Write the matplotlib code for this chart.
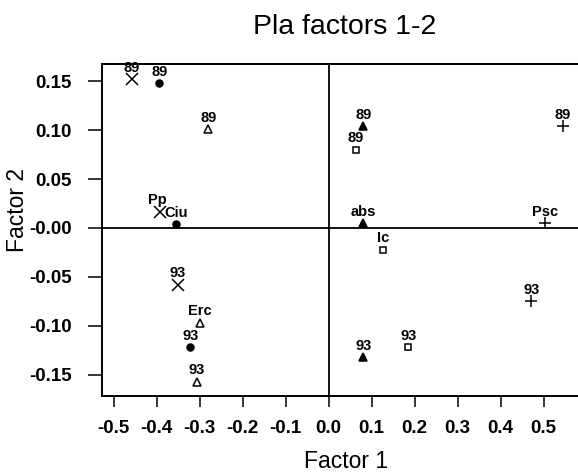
import matplotlib
matplotlib.use("Agg")
import matplotlib.pyplot as plt

plt.rcParams['font.family'] = ['Liberation Sans', 'DejaVu Sans']

# Data: each group has (89, centroid, 93) points
groups = ['Pp', 'Ciu', 'Erc', 'abs', 'Ic', 'Psc']
markers = ['x', 'o', '^', '^', 's', '+']
filled = [True, True, False, True, False, True]
x89 = [-0.457, -0.394, -0.280, 0.081, 0.064, 0.545]
y89 = [0.152, 0.148, 0.101, 0.104, 0.080, 0.104]
xc = [-0.391, -0.354, -0.300, 0.081, 0.126, 0.504]
yc = [0.0167, 0.004, -0.097, 0.005, -0.022, 0.005]
x93 = [-0.351, -0.322, -0.306, 0.081, 0.185, 0.471]
y93 = [-0.058, -0.122, -0.157, -0.132, -0.122, -0.075]
label_offsets = {'Pp': (-2, 5.3)}

xticks = [-0.5, -0.4, -0.3, -0.2, -0.1, 0.0, 0.1, 0.2, 0.3, 0.4, 0.5]
yticks = [0.15, 0.10, 0.05, 0.00, -0.05, -0.10, -0.15]
ytick_labels = ['0.15', '0.10', '0.05', '-0.00', '-0.05', '-0.10', '-0.15']

fig = plt.figure(figsize=(5.78, 4.72), dpi=100)
ax = fig.add_axes([102/578, 1 - 396/472, 1 - 102/578, (396 - 64)/472])
ax.set_xlim(-0.527, 0.58)
ax.set_ylim(-0.1718, 0.1677)

ax.axhline(0, color='black', lw=1.3, zorder=1)
ax.axvline(0, color='black', lw=1.3, zorder=1)

msize = {'x': 8, 'o': 5, '^': 6, 's': 5, '+': 8}
for g, m, f, a, b, c, d, e, h in zip(groups, markers, filled, x89, y89, xc, yc, x93, y93):
    xs = [a, c, e]
    ys = [b, d, h]
    labs = ['89', g, '93']
    for xx, yy, lab in zip(xs, ys, labs):
        if m in ('x', '+'):
            ax.plot(xx, yy, marker=m, color='black', ms=msize[m], mew=1.1, ls='none', zorder=3)
        else:
            ax.plot(xx, yy, marker=m, ms=msize[m], mew=1.1, ls='none', zorder=3,
                    mfc='black' if f else 'white', mec='black')
        off = label_offsets.get(lab, (0, 5.3))
        ax.annotate(lab, (xx, yy), xytext=off, textcoords='offset points',
                    ha='center', va='baseline', fontsize=10.5, fontweight='bold', zorder=4)

ax.set_xticks(xticks)
ax.set_xticklabels([f"{t:.1f}" for t in xticks])
ax.set_yticks(yticks)
ax.set_yticklabels(ytick_labels)
ax.tick_params(axis='x', direction='out', length=8, width=1.1, pad=9.5, labelsize=13.5)
ax.tick_params(axis='y', direction='out', length=10, width=1.1, pad=12, labelsize=13.5)
for t in ax.get_xticklabels() + ax.get_yticklabels():
    t.set_fontweight('bold')

for s in ['left', 'bottom', 'top']:
    ax.spines[s].set_linewidth(1.4)
ax.spines['right'].set_visible(False)

fig.text(344.5/578, 1 - 34.5/472, 'Pla factors 1-2', ha='center', va='baseline', fontsize=20.5)
fig.text(346/578, 1 - 468/472, 'Factor 1', ha='center', va='baseline', fontsize=16.5)
fig.text(18/578, 1 - 210/472, 'Factor 2', ha='center', va='center', rotation=90, fontsize=16.5)

fig.savefig('out.png', dpi=100)
